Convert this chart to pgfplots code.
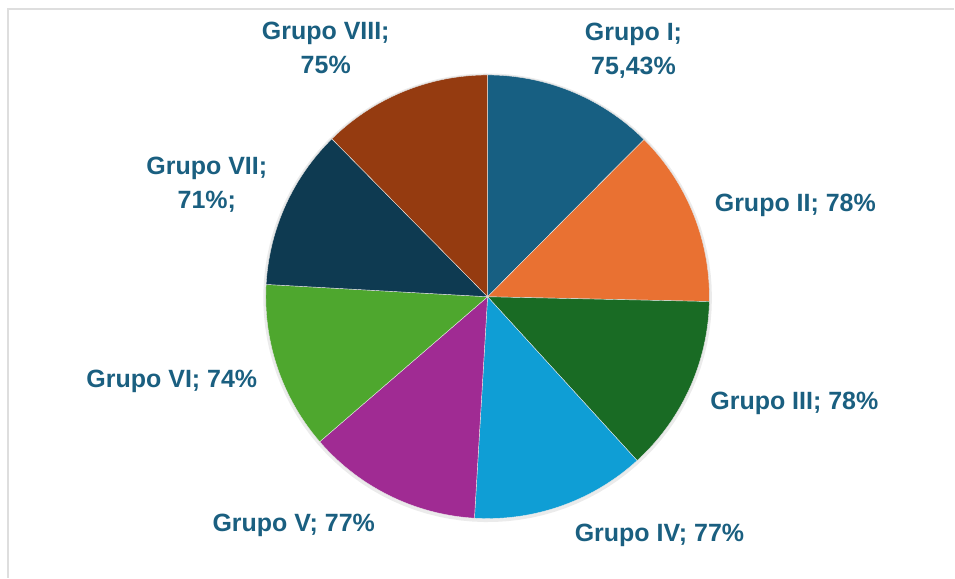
\documentclass[border=0pt]{standalone}
\usepackage{pgfplots}
\pgfplotsset{compat=1.18}
\usepackage{fontspec}
\setmainfont{Liberation Sans}
\definecolor{cI}{HTML}{175F82}
\definecolor{cII}{HTML}{E97132}
\definecolor{cIII}{HTML}{196B24}
\definecolor{cIV}{HTML}{0F9ED5}
\definecolor{cV}{HTML}{A02B93}
\definecolor{cVI}{HTML}{4EA72E}
\definecolor{cVII}{HTML}{0E3A51}
\definecolor{cVIII}{HTML}{953B10}
\definecolor{lbl}{HTML}{1A5F80}
\begin{document}
\begin{tikzpicture}
\begin{axis}[width=955pt,height=578pt,scale only axis,hide axis,
  xmin=0,xmax=955,ymin=0,ymax=578,y dir=reverse,clip=false]
\path (axis cs:0,0) rectangle (axis cs:955,578);
\draw[black!13,line width=1.6pt] (axis cs:8,578) -- (axis cs:8,9) -- (axis cs:955,9);
% soft shadow
\addplot[draw=black!8,line width=3pt,domain=0:360,samples=120,variable=\t]
  ({488+223*cos(t)},{298-223*sin(t)});
\pgfmathsetmacro\tot{75.43+78+78+77+77+74+71+75}
\xdef\cum{0}
\foreach \v/\c in {75.43/cI,78/cII,78/cIII,77/cIV,77/cV,74/cVI,71/cVII,75/cVIII}{
  \pgfmathsetmacro\a{90-360*(\cum/\tot)}
  \pgfmathsetmacro\b{90-360*((\cum+\v)/\tot)}
  \edef\temp{\noexpand\addplot[fill=\c,draw=white!80!gray,line width=0.4pt,domain=\b:\a,samples=60,variable=\noexpand\t]
    ({488+222*cos(\noexpand\t)},{297-222*sin(\noexpand\t)}) -- (axis cs:488,297) -- cycle;}
  \temp
  \pgfmathsetmacro\n{\cum+\v}\xdef\cum{\n}
}
\tikzset{lab/.style={text=lbl,align=center,font=\fontsize{25}{34}\selectfont\bfseries}}
\node[lab] at (axis cs:634,51) {Grupo I;\\75,43\%};
\node[lab] at (axis cs:796,206) {Grupo II; 78\%};
\node[lab] at (axis cs:795,404) {Grupo III; 78\%};
\node[lab] at (axis cs:660,536) {Grupo IV; 77\%};
\node[lab] at (axis cs:294,526) {Grupo V; 77\%};
\node[lab] at (axis cs:172,382) {Grupo VI; 74\%};
\node[lab] at (axis cs:207,185) {Grupo VII;\\71\%;};
\node[lab] at (axis cs:326,48) {Grupo VIII;\\75\%};
\end{axis}
\end{tikzpicture}
\end{document}
